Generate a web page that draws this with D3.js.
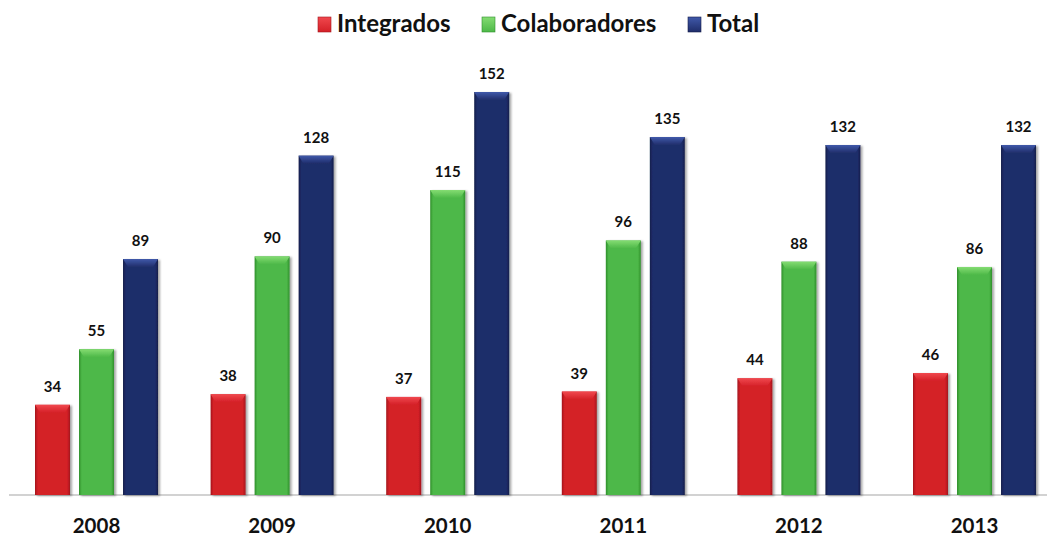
<!DOCTYPE html>
<html>
<head>
<meta charset="utf-8">
<script src="https://cdn.jsdelivr.net/npm/d3@7"></script>
<style>
  html, body { margin: 0; padding: 0; background: #fff; }
  svg { display: block; font-family: Lato, "Open Sans", sans-serif; }
</style>
</head>
<body>
<svg id="chart" width="1047" height="536"></svg>
<script>
// Yearly counts
const years = ["2008", "2009", "2010", "2011", "2012", "2013"];
const seriesNames = ["Integrados", "Colaboradores", "Total"];
const integrados = [34, 38, 37, 39, 44, 46];
const colaboradores = [55, 90, 115, 96, 88, 86];
const total = [89, 128, 152, 135, 132, 132];
const seriesValues = [integrados, colaboradores, total];

// Base, light and dark tones per series
const colors = {
  Integrados:    { base: "#d42027", light: "#f0484e", dark: "#a3161c" },
  Colaboradores: { base: "#4db848", light: "#84dc72", dark: "#2f8f2c" },
  Total:         { base: "#1f2d6a", light: "#4059aa", dark: "#141d4a" }
};

const W = 1047, H = 536;
const svg = d3.select("#chart");
const defs = svg.append("defs");

const baseY = 495;
const x0 = d3.scaleBand().domain(years).range([8.7, 1062.3]).padding(0);
const bw = x0.bandwidth();
const x1 = d3.scaleBand().domain(seriesNames)
  .range([bw / 2 - 61.5, bw / 2 + 61.5])
  .paddingInner(0.205).paddingOuter(0);
const y = d3.scaleLinear().domain([0, 152]).range([baseY, 92]);

// Gradients giving the bars their bevelled look
seriesNames.forEach((s, i) => {
  const c = colors[s];
  const hg = defs.append("linearGradient").attr("id", "side" + i)
    .attr("x1", "0").attr("x2", "1").attr("y1", "0").attr("y2", "0");
  hg.append("stop").attr("offset", "0").attr("stop-color", c.dark);
  hg.append("stop").attr("offset", "0.08").attr("stop-color", c.base);
  hg.append("stop").attr("offset", "0.92").attr("stop-color", c.base);
  hg.append("stop").attr("offset", "1").attr("stop-color", c.dark);
  const vg = defs.append("linearGradient").attr("id", "cap" + i)
    .attr("x1", "0").attr("x2", "0").attr("y1", "0").attr("y2", "1");
  vg.append("stop").attr("offset", "0").attr("stop-color", c.light);
  vg.append("stop").attr("offset", "1").attr("stop-color", c.base);
});

const shadow = defs.append("filter").attr("id", "shadow")
  .attr("x", "-20%").attr("y", "-5%").attr("width", "140%").attr("height", "110%");
shadow.append("feDropShadow").attr("dx", 2).attr("dy", 1)
  .attr("stdDeviation", 1.2).attr("flood-color", "#000").attr("flood-opacity", 0.35);

// Axis line and year labels
const xAxis = d3.axisBottom(x0).tickSize(0).tickPadding(0);
const axisG = svg.append("g").attr("transform", `translate(0,${baseY})`).call(xAxis);
axisG.select(".domain").attr("d", `M9,0H${W}`).attr("stroke", "#a6a6a6").attr("stroke-width", 1.2);
axisG.selectAll(".tick text")
  .attr("y", 38).attr("dy", null)
  .attr("font-size", 20.5).attr("font-weight", "bold").attr("fill", "#111")
  .attr("font-family", "Lato, sans-serif");

// Bars
const groups = svg.append("g").selectAll("g").data(years).join("g")
  .attr("transform", d => `translate(${x0(d)},0)`);

seriesNames.forEach((s, i) => {
  const bars = groups.append("g").attr("filter", "url(#shadow)");
  bars.append("rect")
    .attr("x", x1(s))
    .attr("y", (d, j) => y(seriesValues[i][j]))
    .attr("width", x1.bandwidth())
    .attr("height", (d, j) => baseY - y(seriesValues[i][j]))
    .attr("fill", `url(#side${i})`);
  bars.append("polygon")
    .attr("points", (d, j) => {
      const xl = x1(s), xr = x1(s) + x1.bandwidth(), t = y(seriesValues[i][j]);
      return [[xl, t], [xr, t], [xr - 5, t + 8], [xl + 5, t + 8]].join(" ");
    })
    .attr("fill", `url(#cap${i})`);
  groups.append("text")
    .attr("x", x1(s) + x1.bandwidth() / 2)
    .attr("y", (d, j) => y(seriesValues[i][j]) - 13)
    .attr("text-anchor", "middle")
    .attr("font-size", 15).attr("font-weight", "bold").attr("fill", "#111")
    .text((d, j) => seriesValues[i][j]);
});

// Legend
const legendPos = [318, 482, 688];
const legend = svg.append("g");
seriesNames.forEach((s, i) => {
  const g = legend.append("g").attr("transform", `translate(${legendPos[i]},0)`);
  g.append("rect").attr("x", 0).attr("y", 17).attr("width", 13).attr("height", 15)
    .attr("fill", `url(#cap${i})`).attr("stroke", colors[s].dark).attr("stroke-width", 0.6);
  g.append("text").attr("x", 19).attr("y", 32)
    .attr("font-size", 24).attr("font-weight", "bold").attr("fill", "#111")
    .text(s);
});
</script>
</body>
</html>
